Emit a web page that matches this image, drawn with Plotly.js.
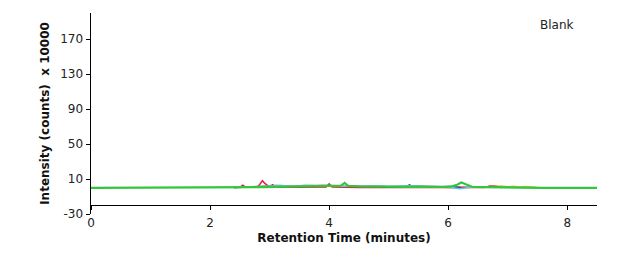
<!DOCTYPE html>
<html><head><meta charset="utf-8">
<script src="https://cdn.plot.ly/plotly-3.0.1.min.js"></script>
<style>html,body{margin:0;padding:0;background:#fff}</style>
</head><body><div id="chart" style="width:620px;height:259px"></div>
<script>
// Retention time (minutes)
const tGreen = [0, 2.3, 2.5, 2.7, 2.9, 3.1, 3.3, 3.5, 3.7, 3.9, 4.1, 4.2, 4.26, 4.32, 4.5, 4.7, 4.9, 5.1, 5.3, 5.5, 5.7, 5.9, 6.05, 6.15, 6.22, 6.3, 6.4, 6.6, 6.8, 7.0, 7.3, 7.6, 8.5];
const yGreen = [0, 0, 0.3, 0.6, 0.8, 1.0, 1.2, 1.4, 1.2, 1.6, 1.8, 2.5, 5.5, 2.2, 1.6, 1.3, 1.5, 1.2, 1.0, 1.4, 1.1, 0.9, 1.5, 3.5, 6.0, 4.0, 1.2, 0.8, 0.6, 0.4, 0.2, 0, 0];
const tCyan = [2.4, 2.7, 3.0, 3.2, 3.4, 3.6, 3.8, 4.0, 4.2, 4.4, 4.6, 4.8, 5.0, 5.2, 5.4, 5.6, 5.8, 6.0, 6.2, 6.4, 6.6, 7.0, 7.5];
const yCyan = [0, 0.8, 1.5, 2.5, 1.8, 3.0, 2.2, 2.6, 1.8, 2.4, 1.6, 2.0, 1.5, 1.9, 2.2, 1.4, 1.2, 1.0, -1.0, 0.8, 0.5, 0.3, 0];
const tRed = [2.4, 2.5, 2.55, 2.6, 2.8, 2.85, 2.88, 2.92, 3.0, 3.05, 3.1, 3.5, 3.95, 4.0, 4.05, 4.5, 6.6, 6.7, 6.8, 6.9];
const yRed = [0, 0.5, 3.0, 0.5, 0.8, 6.0, 8.0, 5.0, 0.8, 3.5, 0.6, 0.5, 1.0, 4.5, 1.0, 0.3, 0.2, 2.0, 1.8, 0.3];
const tGray = [2.5, 2.8, 3.1, 3.3, 3.6, 3.9, 4.3, 4.7, 5.0, 5.4, 5.8, 6.1, 6.5];
const yGray = [0.5, 1.5, 2.8, 2.0, 2.5, 3.0, 1.8, 2.2, 1.6, 2.4, 1.8, 1.2, 0.5];
const tBlue = [4.9, 5.2, 5.3, 5.35, 5.4, 5.6, 5.9, 6.2];
const yBlue = [0.5, 1.0, 1.2, 3.2, 1.2, 0.8, 0.5, 0.3];
const tYellow = [6.5, 6.7, 6.9, 7.0, 7.1, 7.2, 7.3, 7.5];
const yYellow = [0.5, 1.5, 2.0, 1.2, 1.8, 1.0, 1.4, 0.3];
const xTicks = [0, 2, 4, 6, 8];
const yTicks = [-30, 10, 50, 90, 130, 170];

const mk = (x, y, c, w) => ({x, y, type:'scatter', mode:'lines', line:{color:c, width:w}, hoverinfo:'skip'});
const data = [
  mk(tGray, yGray, '#b0a0c8', 1.5),
  mk(tYellow, yYellow, '#e8c020', 1.5),
  mk(tRed, yRed, '#e0203a', 1.5),
  mk(tBlue, yBlue, '#1a3a8a', 1.5),
  mk(tCyan, yCyan, '#60c8e0', 1.5),
  mk(tGreen, yGreen, '#33c63a', 2.2)
];
const layout = {
  width:620, height:259,
  margin:{l:91, r:23, t:13, b:45},
  paper_bgcolor:'#fff', plot_bgcolor:'#fff',
  showlegend:false,
  font:{family:'Verdana, DejaVu Sans, sans-serif', size:12, color:'#222'},
  xaxis:{range:[0,8.5], tickvals:xTicks, ticktext:xTicks.map(String), showgrid:false, zeroline:false,
    showline:true, linecolor:'#000', linewidth:1.5, ticks:'outside', ticklen:4, tickcolor:'#000',
    anchor:'free', position:0.045, ticklabelstandoff:2,
    tickfont:{size:12, color:'#222'},
    title:{text:'<b>Retention Time (minutes)</b>', font:{size:12, color:'#111'}, standoff:4}},
  yaxis:{range:[-30,200], tickvals:yTicks, ticktext:yTicks.map(String), showgrid:false, zeroline:false,
    showline:true, linecolor:'#000', linewidth:1.5, ticks:'outside', ticklen:4, tickcolor:'#000',
    tickfont:{size:12, color:'#222'},
    title:{text:'<b>Intensity (counts)  x 10000</b>', font:{size:12, color:'#111'}, standoff:8}},
  annotations:[{text:'Blank', xref:'paper', yref:'paper', x:0.92, y:0.985, showarrow:false, xanchor:'center', yanchor:'top', font:{size:12, color:'#222'}}]
};
Plotly.newPlot('chart', data, layout, {staticPlot:true, displayModeBar:false});
</script></body></html>
